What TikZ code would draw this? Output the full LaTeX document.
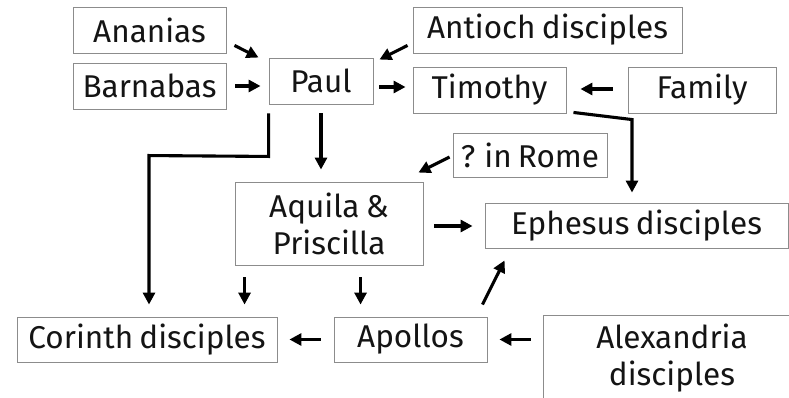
\documentclass[tikz,border=0pt]{standalone}
\usepackage{fontspec}
\setmainfont{Fira Sans}[WordSpace=0.75]
\usetikzlibrary{arrows.meta,calc}
\tikzset{
  box/.style={draw=black!45, line width=0.9pt, inner sep=0pt, align=center,
    font=\fontsize{31.5}{37}\selectfont, text=black!92},
  conn/.style={line width=3.1pt, -{Triangle[length=12pt,width=12pt]}},
}
\begin{document}
\begin{tikzpicture}[x=1pt,y=-1pt]
\useasboundingbox (0,0) rectangle (789,398);
\clip (0,0) rectangle (789,398);
\fill[white] (0,0) rectangle (789,398);
\node[box, minimum width=153pt, minimum height=46pt] (ananias) at (149.5,30) {Ananias};
\node[box, minimum width=153pt, minimum height=46pt] (barnabas) at (149.5,86) {Barnabas};
\node[box, minimum width=104pt, minimum height=46pt] (paul) at (321,81) {Paul};
\node[box, minimum width=269pt, minimum height=46pt] (antioch) at (547.5,30) {Antioch disciples};
\node[box, minimum width=153pt, minimum height=46pt] (timothy) at (489.5,90) {Timothy};
\node[box, minimum width=148pt, minimum height=46pt] (family) at (702,90) {Family};
\node[box, minimum width=154pt, minimum height=44pt] (rome) at (530,155) {? in Rome};
\node[box, minimum width=188pt, minimum height=83pt] (aquila) at (329,223.5) {Aquila \&\\Priscilla};
\node[box, minimum width=303pt, minimum height=45pt] (ephesus) at (636.5,225.5) {Ephesus disciples};
\node[box, minimum width=260pt, minimum height=45pt] (corinth) at (147,339.5) {Corinth disciples};
\node[box, minimum width=153pt, minimum height=45pt] (apollos) at (410.5,339.5) {Apollos};
\node[box, minimum width=258pt, minimum height=86pt] (alex) at (672,358) {Alexandria\\disciples};

\draw[conn] ($(ananias.south east)+(8,-8)$) -- ($(paul.north west)+(-10,0)$);
\draw[conn] ($(barnabas.east)+(9,0)$) -- ($(paul.west|-barnabas.east)+(-8,0)$);
\draw[conn] ($(antioch.south west)+(-5,-8)$) -- ($(paul.north east)+(6,2)$);
\draw[conn] ($(paul.east)+(6,6)$) -- ($(timothy.west)+(-7,-3)$);
\draw[conn] ($(family.west)+(-15,-1)$) -- ($(timothy.east)+(14,-1)$);
\draw[conn] ($(timothy.south east)+(7,-1)$) -- ($(ephesus.north)+(-4.5,-83)$) -- ($(ephesus.north)+(-4.5,-10)$);
\draw[conn] ($(rome.west)+(-3,2)$) -- ($(aquila.north east)+(-5,-9)$);
\draw[conn] ($(paul.south)+(0,9)$) -- ($(paul.south|-aquila.north)+(0,-12)$);
\draw[conn] ($(paul.south west)+(0,9)$) -- ($(paul.south west)+(0,52)$) -- ($(corinth.north)+(2,-161)$) -- ($(corinth.north)+(2,-12)$);
\draw[conn] ($(aquila.south west)+(10,12)$) -- ($(aquila.south west|-corinth.north)+(10,-12)$);
\draw[conn] ($(aquila.south west)+(126,12)$) -- ($(aquila.south west|-apollos.north)+(126,-12)$);
\draw[conn] ($(aquila.east)+(11,2.5)$) -- ($(ephesus.west)+(-12,0.5)$);
\draw[conn] ($(apollos.west)+(-13,0)$) -- ($(corinth.east)+(12,0)$);
\draw[conn] ($(alex.west|-apollos.east)+(-12,0)$) -- ($(apollos.east)+(12,0)$);
\draw[conn] ($(apollos.north east)+(-5,-12)$) -- ($(ephesus.south west)+(20,12)$);
\end{tikzpicture}
\end{document}
